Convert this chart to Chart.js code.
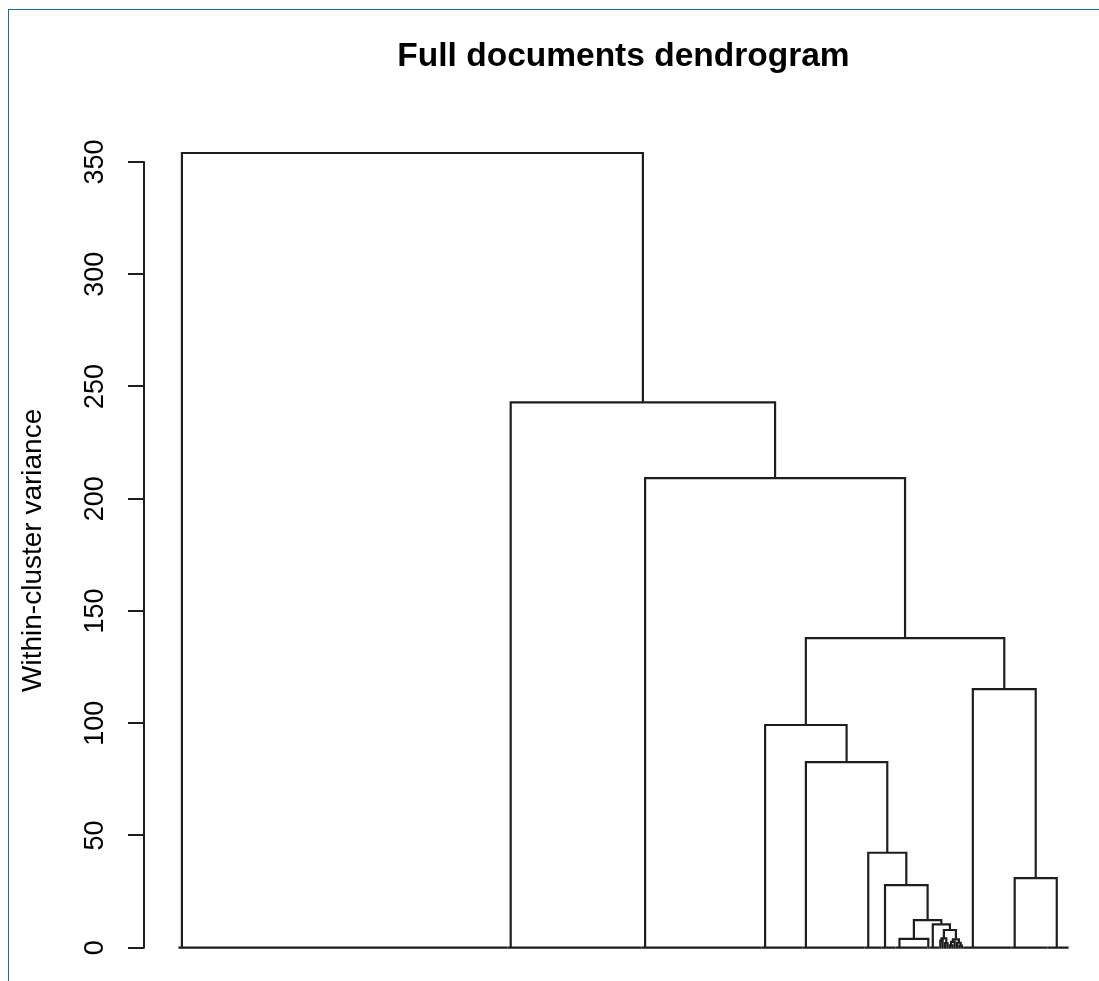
<!DOCTYPE html>
<html>
<head>
<meta charset="utf-8">
<title>Full documents dendrogram</title>
<script src="https://cdn.jsdelivr.net/npm/chart.js@4.4.0/dist/chart.umd.min.js"></script>
<style>
  html, body { margin: 0; padding: 0; background: #fff; overflow: hidden; }
  #wrap { position: relative; width: 1099px; height: 981px; overflow: hidden; background: #fff; }
  #c { position: absolute; left: 0; top: 0; }
  #frame {
    position: absolute; left: 8px; top: 9px; right: 0; bottom: 0;
    border-top: 1px solid #1f6d86; border-left: 1px solid #1f6d86;
    pointer-events: none;
  }
</style>
</head>
<body>
<div id="wrap">
  <canvas id="c" width="1103" height="981"></canvas>
  <div id="frame"></div>
</div>
<script>
// ---- text ----
const chartTitle = 'Full documents dendrogram';
const axisTitle = 'Within-cluster variance';
const yTicks = [0, 50, 100, 150, 200, 250, 300, 350];

// ---- leaf groups, left to right ----
// Each group is a run of identical documents that merge at height 0.
// groupLeftRun: how many of the group's leaves form a left-nested run (0 = right-nested only).
const groupSizes   = [137, 56, 50, 17, 26, 7, 6, 13, 1, 4, 1, 1, 1, 1, 1, 1, 1, 1, 1, 1, 20, 15, 9];
const groupLeftRun = [0,   0,  0,  0,  0,  0, 0, 0,  0, 0, 0, 0, 0, 0, 0, 0, 0, 0, 0, 0, 4,  0,  4];

// ---- merges (hclust style): negative = group number, positive = earlier merge row ----
const mergeLeft   = [-15, -19, -13, -18, -11,   1,   6,  -8,   5,   9,  -10,    8,   -7,  -22,   -6,   -5,   -4,  -21,    17,    -3,    -2,    -1];
const mergeRight  = [-16, -20, -14,   2, -12, -17,   4,  -9,   3,   7,   10,   11,   12,  -23,   13,   15,   16,   14,    18,    19,    20,    21];
const mergeHeight = [1.0, 0.9, 2.0, 2.2, 3.2, 2.6, 3.7, 3.9, 4.2, 7.9, 10.4, 12.3, 27.9, 31.0, 42.3, 82.7, 99.2, 115.2, 137.9, 209.2, 242.9, 354.0];

// ---- build the tree: each merge becomes a ⊓-shaped polyline ----
const points = [];
function join(a, b, h) {
  points.push({x: a.x, y: a.h}, {x: a.x, y: h}, {x: b.x, y: h}, {x: b.x, y: b.h}, {x: b.x, y: null});
  return {x: (a.x + b.x) / 2, h: h};
}
const leafNode = i => ({x: i, h: 0});

let nextLeaf = 1;
const groupNodes = groupSizes.map((n, gi) => {
  const start = nextLeaf;
  nextLeaf += n;
  const L = groupLeftRun[gi];
  let left = null, right = null;
  if (L > 0) {
    left = leafNode(start);
    for (let i = start + 1; i < start + L; i++) left = join(left, leafNode(i), 0);
  }
  if (L < n) {
    right = leafNode(start + n - 1);
    for (let i = start + n - 2; i >= start + L; i--) right = join(leafNode(i), right, 0);
  }
  return (left && right) ? join(left, right, 0) : (left || right);
});
const nLeaves = nextLeaf - 1;

const mergeNodes = [];
const pick = id => id < 0 ? groupNodes[-id - 1] : mergeNodes[id - 1];
mergeHeight.forEach((h, k) => {
  mergeNodes.push(join(pick(mergeLeft[k]), pick(mergeRight[k]), h));
});

// axis ranges with a 4% margin on each side
const maxH = Math.max(...mergeHeight);
const xPad = 0.04 * (nLeaves - 1);
const yPad = 0.04 * maxH;

const fontFamily = "Arial, 'Liberation Sans', Helvetica, sans-serif";
const ink = '#1e1e1e';
const stroke = 2.2;

// y axis line only spans the labelled ticks
const axisLine = {
  id: 'axisLine',
  afterDraw(chart) {
    const ys = chart.scales.y;
    const ctx = chart.ctx;
    const x = chart.chartArea.left;
    ctx.save();
    ctx.strokeStyle = ink;
    ctx.lineWidth = 2;
    ctx.lineCap = 'round';
    ctx.beginPath();
    ctx.moveTo(x, ys.getPixelForValue(yTicks[0]));
    ctx.lineTo(x, ys.getPixelForValue(yTicks[yTicks.length - 1]));
    ctx.stroke();
    ctx.restore();
  }
};

new Chart(document.getElementById('c'), {
  type: 'line',
  data: {
    datasets: [{
      data: points,
      borderColor: ink,
      borderWidth: stroke,
      pointRadius: 0,
      tension: 0,
      spanGaps: false,
      fill: false,
      borderCapStyle: 'square',
      borderJoinStyle: 'miter'
    }]
  },
  options: {
    responsive: false,
    devicePixelRatio: 1,
    animation: false,
    events: [],
    layout: { padding: { left: 0, top: 0, right: 0, bottom: 1.5 } },
    plugins: {
      legend: { display: false },
      tooltip: { enabled: false },
      title: {
        display: true,
        text: chartTitle,
        fullSize: false,
        color: '#000',
        font: { family: fontFamily, size: 33.5, weight: 'bold' },
        padding: { top: 37, bottom: 44 }
      }
    },
    scales: {
      x: {
        type: 'linear',
        display: false,
        min: 1 - xPad,
        max: nLeaves + xPad
      },
      y: {
        type: 'linear',
        min: -yPad,
        max: maxH + yPad,
        afterBuildTicks: s => { s.ticks = yTicks.map(v => ({value: v})); },
        afterFit: s => { s.width = 144; s.paddingTop = 0; s.paddingBottom = 0; },
        border: { display: false },
        grid: {
          drawOnChartArea: false,
          drawTicks: true,
          tickLength: 16,
          color: ink,
          lineWidth: 2
        },
        ticks: {
          minRotation: 90,
          maxRotation: 90,
          crossAlign: 'center',
          padding: 10,
          color: '#000',
          font: { family: fontFamily, size: 27 },
          callback: v => String(v)
        },
        title: {
          display: true,
          text: axisTitle,
          color: '#000',
          font: { family: fontFamily, size: 28 },
          padding: { top: 16, bottom: 0 }
        }
      }
    }
  },
  plugins: [axisLine]
});
</script>
</body>
</html>
